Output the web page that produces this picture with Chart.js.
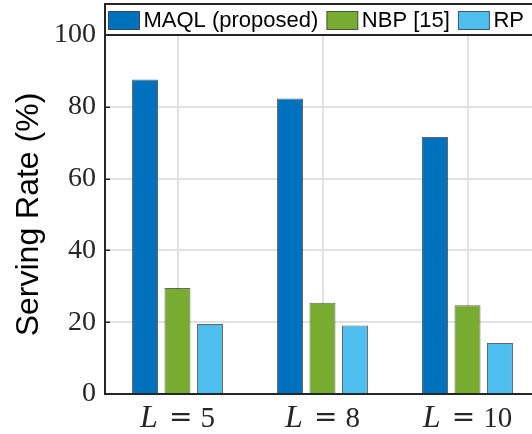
<!DOCTYPE html>
<html><head><meta charset="utf-8">
<script src="https://cdn.jsdelivr.net/npm/chart.js@4.4.1/dist/chart.umd.min.js"></script>
<style>
html,body{margin:0;padding:0;overflow:hidden;background:#fff;width:532px;height:434px}
#wrap{position:relative;width:540px;height:434px}
</style>
</head><body>
<div id="wrap"><canvas id="c"></canvas></div>
<script>
const lValues = ['5', '8', '10'];
const seriesNames = ['MAQL (proposed)', 'NBP [15]', 'RP'];
const maql = [87.6, 82.3, 71.6];
const nbp = [29.5, 25.4, 24.7];
const rp = [19.5, 19.1, 14.2];
const yTicks = [0, 20, 40, 60, 80, 100];
const yTitle = 'Serving Rate (%)';
const colors = ['#0072BD', '#77AC30', '#4DBEEE'];

const seriesValues = [maql, nbp, rp];

const decor = {
  id: 'decor',
  afterDraw(chart) {
    const {ctx, chartArea: a, scales: {x, y}} = chart;
    ctx.save();
    // inward y ticks
    ctx.strokeStyle = '#262626';
    ctx.lineWidth = 1.5;
    y.ticks.forEach(t => {
      const py = Math.round(y.getPixelForValue(t.value)) + 0.25;
      ctx.beginPath(); ctx.moveTo(a.left, py); ctx.lineTo(a.left + 5, py); ctx.stroke();
    });
    // x labels "L = n"
    ctx.fillStyle = '#262626';
    ctx.textBaseline = 'alphabetic';
    ctx.textAlign = 'left';
    const fL = 'italic 32px "Liberation Serif"';
    const fE = '28px "DejaVu Serif"';
    const fN = '29px "Liberation Serif"';
    const gap = 8;
    chart.data.labels.forEach((lab, i) => {
      const cx = x.getPixelForTick(i);
      ctx.font = fL; const wL = ctx.measureText('L').width + 3;
      ctx.font = fE; const wE = ctx.measureText('=').width;
      ctx.font = fN; const wN = ctx.measureText(lab).width;
      const total = wL + gap + wE + gap + wN;
      let px = cx - total / 2;
      const by = 427;
      ctx.font = fL; ctx.fillText('L', px, by); px += wL + gap;
      ctx.font = fE; ctx.fillText('=', px, by - 1); px += wE + gap;
      ctx.font = fN; ctx.fillText(lab, px, by);
    });
    // legend
    ctx.fillStyle = '#fff';
    ctx.fillRect(105, 4, 440, 31);
    ctx.strokeStyle = '#262626';
    ctx.lineWidth = 2;
    ctx.strokeRect(105, 4, 440, 31);
    ctx.font = '22px "Liberation Sans"';
    ctx.textBaseline = 'middle';
    let lx = 108.5;
    chart.data.datasets.forEach(ds => {
      ctx.fillStyle = ds.backgroundColor;
      ctx.fillRect(lx, 11.5, 31, 18);
      ctx.strokeStyle = 'rgba(0,0,0,0.6)';
      ctx.lineWidth = 1;
      ctx.strokeRect(lx, 11.5, 31, 18);
      ctx.fillStyle = '#000';
      ctx.fillText(ds.label, lx + 35, 21);
      lx += 35 + ctx.measureText(ds.label).width + 8.5;
    });
    ctx.restore();
  }
};

new Chart(document.getElementById('c'), {
  type: 'bar',
  data: {
    labels: lValues,
    datasets: seriesNames.map((n, i) => ({
      label: n,
      data: seriesValues[i],
      backgroundColor: colors[i],
      borderColor: 'rgba(0,0,0,0.6)',
      borderWidth: 1,
      categoryPercentage: 0.672,
      barPercentage: 0.8
    }))
  },
  options: {
    responsive: true,
    maintainAspectRatio: false,
    animation: false,
    layout: {padding: {top: 35, right: 0, left: 0, bottom: 0}},
    plugins: {legend: {display: false}, tooltip: {enabled: false}},
    scales: {
      x: {
        afterFit(s) { s.height = 40; },
        grid: {offset: false, color: '#e2e2e2', lineWidth: 2, drawTicks: false},
        border: {display: true, color: '#262626', width: 2},
        ticks: {display: false}
      },
      y: {
        min: 0, max: 100,
        afterFit(s) { s.width = 105; },
        afterBuildTicks(s) { s.ticks = yTicks.map(v => ({value: v})); },
        grid: {color: '#e2e2e2', lineWidth: 2, drawTicks: false},
        border: {display: true, color: '#262626', width: 2},
        ticks: {padding: 9, color: '#262626', font: {family: 'Liberation Serif', size: 28}},
        title: {display: true, text: yTitle, color: '#000', font: {family: 'Liberation Sans', size: 32}, padding: {top: 10, bottom: 0}}
      }
    }
  },
  plugins: [decor]
});
</script>
</body></html>
